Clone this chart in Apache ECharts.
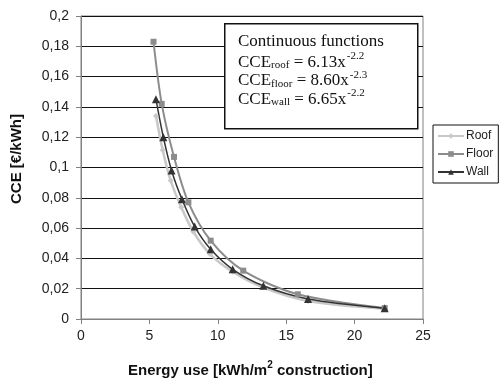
<!DOCTYPE html>
<html lang="en">
<head>
    <meta charset="UTF-8">
    <title>CCE</title>
    <script src="https://cdn.jsdelivr.net/npm/echarts@6/dist/echarts.min.js"></script>
    <style>
        * { margin: 0; padding: 0; }
        body { background: #fff; overflow: hidden; }
        #main { width: 504px; height: 379px; }
    </style>
</head>
<body>
<div id="main"></div>
<script type="text/javascript">
    // data
    var roofX  = [5.48, 5.97, 6.55, 7.33, 8.21, 9.43, 11.09, 13.28, 16.6, 22.2];
    var roofY  = [0.134, 0.1115, 0.0915, 0.0737, 0.0576, 0.0429, 0.0312, 0.0209, 0.0119, 0.0068];
    var floorX = [5.3, 5.9, 6.8, 7.85, 9.48, 11.86, 15.85, 22.2];
    var floorY = [0.183, 0.142, 0.107, 0.077, 0.0517, 0.0319, 0.0163, 0.0072];
    var wallX  = [5.48, 6.02, 6.62, 7.38, 8.31, 9.48, 11.09, 13.33, 16.6, 22.2];
    var wallY  = [0.145, 0.120, 0.098, 0.079, 0.061, 0.046, 0.0328, 0.0219, 0.0132, 0.0071];
    var seriesNames = ['Roof', 'Floor', 'Wall'];
    var formulaLines = [
        ['roof', '6.13', '-2.2'],
        ['floor', '8.60', '-2.3'],
        ['wall', '6.65', '-2.2']
    ];

    function pairs(xs, ys) {
        return xs.map(function (x, i) { return [x, ys[i]]; });
    }

    var sans = 'Liberation Sans, Arial, sans-serif';
    var serif = 'Liberation Serif, Times New Roman, serif';

    var myChart = echarts.init(document.getElementById('main'));

    // annotation box with the fitted functions
    var graphics = [{
        type: 'rect', left: 224, top: 23,
        shape: { width: 193, height: 105 },
        style: { fill: '#fff', stroke: '#111', lineWidth: 1.5 },
        z: 10
    }, {
        type: 'text', left: 238, top: 33, z: 11,
        style: { text: 'Continuous functions', fontFamily: serif, fontSize: 17, fill: '#111' }
    }];
    formulaLines.forEach(function (f, i) {
        graphics.push({
            type: 'text', left: 238, top: 51 + i * 18.5, z: 11,
            style: {
                text: '{a|CCE}{sub|' + f[0] + '}{a| = ' + f[1] + 'x}{sup|' + f[2] + '}',
                rich: {
                    a: { fontFamily: serif, fontSize: 17, fill: '#111', lineHeight: 20, verticalAlign: 'bottom' },
                    sub: { fontFamily: serif, fontSize: 11, fill: '#111', lineHeight: 20, verticalAlign: 'bottom' },
                    sup: { fontFamily: serif, fontSize: 11, fill: '#111', lineHeight: 20, verticalAlign: 'top', padding: [0, 0, 0, 1] }
                }
            }
        });
    });
    graphics.push({
        type: 'text', left: 9, top: 114,
        rotation: Math.PI / 2,
        style: { text: 'CCE [€/kWh]', fontFamily: sans, fontWeight: 'bold', fontSize: 15, fill: '#111' }
    });
    graphics.push({
        type: 'text', left: 128, top: 360,
        style: {
            text: '{b|Energy use [kWh/m}{s|2}{b| construction]}',
            rich: {
                b: { fontFamily: sans, fontWeight: 'bold', fontSize: 15, fill: '#111', lineHeight: 18, verticalAlign: 'bottom' },
                s: { fontFamily: sans, fontWeight: 'bold', fontSize: 10, fill: '#111', lineHeight: 18, verticalAlign: 'top' }
            }
        }
    });

    var option = {
        animation: false,
        grid: {
            left: 81, right: 81, top: 16, bottom: 60,
            show: true, borderColor: '#808080', borderWidth: 1
        },
        xAxis: {
            type: 'value', min: 0, max: 25, interval: 5,
            axisLine: { lineStyle: { color: '#808080', width: 1 } },
            axisTick: { show: true, length: 5, lineStyle: { color: '#808080' } },
            axisLabel: { color: '#222', fontFamily: sans, fontSize: 14, margin: 10 },
            splitLine: { show: false }
        },
        yAxis: {
            type: 'value', min: 0, max: 0.2, interval: 0.02,
            axisLine: { show: true, lineStyle: { color: '#808080', width: 1 } },
            axisTick: { show: true, length: 5, lineStyle: { color: '#808080' } },
            axisLabel: {
                color: '#222', fontFamily: sans, fontSize: 14, margin: 12,
                formatter: function (v) { return String(+v.toFixed(2)).replace('.', ','); }
            },
            splitLine: { show: true, lineStyle: { color: '#111', width: 1 } }
        },
        legend: {
            orient: 'vertical',
            left: 433, top: 125,
            data: seriesNames,
            itemWidth: 26, itemHeight: 7, itemGap: 6,
            padding: [5, 5, 5, 4],
            borderColor: '#111', borderWidth: 1,
            textStyle: { color: '#222', fontFamily: sans, fontSize: 12, padding: [0, 0, 0, -3] }
        },
        series: [
            {
                name: 'Roof', type: 'line', smooth: 0.3,
                data: pairs(roofX, roofY),
                symbol: 'diamond', symbolSize: 6,
                lineStyle: { color: '#c8c8c8', width: 2.5 },
                itemStyle: { color: '#c8c8c8' }
            },
            {
                name: 'Floor', type: 'line', smooth: 0.3,
                data: pairs(floorX, floorY),
                symbol: 'rect', symbolSize: 6,
                lineStyle: { color: '#8c8c8c', width: 2 },
                itemStyle: { color: '#8c8c8c' }
            },
            {
                name: 'Wall', type: 'line', smooth: 0.3,
                data: pairs(wallX, wallY),
                symbol: 'triangle', symbolSize: 8,
                lineStyle: { color: '#333', width: 1.5 },
                itemStyle: { color: '#333' }
            }
        ],
        graphic: graphics
    };
    myChart.setOption(option);
</script>
</body>
</html>
